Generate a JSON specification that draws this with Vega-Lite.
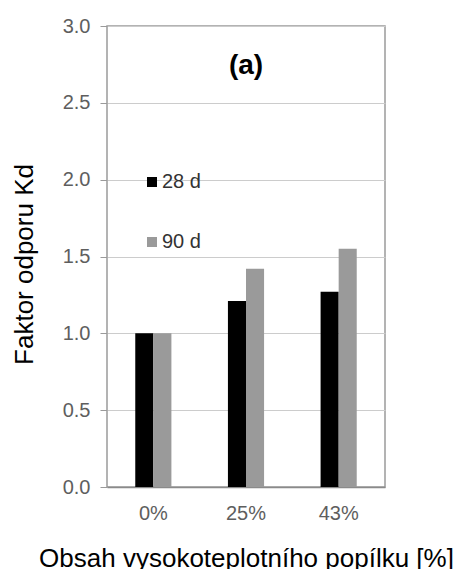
{
  "$schema": "https://vega.github.io/schema/vega-lite/v6.json",
  "autosize": "none",
  "width": 278,
  "height": 461,
  "padding": {"left": 107, "top": 26, "right": 68, "bottom": 82},
  "background": "white",
  "config": {
    "font": "Liberation Sans",
    "view": {"stroke": "#9a9a9a", "strokeWidth": 1.5},
    "axis": {"labelFont": "Liberation Sans", "titleFont": "Liberation Sans", "labelColor": "#5e5e5e", "titleColor": "#000000", "titleFontWeight": "normal"}
  },
  "datasets": {
    "bars": [
      {"obsah": "0%", "stari": "28 d", "kd": 1.0},
      {"obsah": "0%", "stari": "90 d", "kd": 1.0},
      {"obsah": "25%", "stari": "28 d", "kd": 1.21},
      {"obsah": "25%", "stari": "90 d", "kd": 1.42},
      {"obsah": "43%", "stari": "28 d", "kd": 1.27},
      {"obsah": "43%", "stari": "90 d", "kd": 1.55}
    ],
    "note": [{"obsah": "25%", "kd": 2.74, "label": "(a)"}]
  },
  "layer": [
    {
      "data": {"name": "bars"},
      "mark": {"type": "bar"},
      "encoding": {
        "x": {
          "field": "obsah", "type": "nominal", "sort": ["0%", "25%", "43%"],
          "scale": {"paddingInner": 0.61, "paddingOuter": 0.305},
          "axis": {"title": "Obsah vysokoteplotního popílku [%]", "labelAngle": 0, "ticks": false, "labelFontSize": 20, "labelPadding": 16, "titleFontSize": 26, "titlePadding": 22, "domainColor": "#8a8a8a", "domainWidth": 1.5}
        },
        "xOffset": {"field": "stari", "type": "nominal", "scale": {"paddingInner": 0, "paddingOuter": 0}},
        "y": {
          "field": "kd", "type": "quantitative",
          "scale": {"domain": [0, 3]},
          "axis": {"title": "Faktor odporu Kd", "values": [0, 0.5, 1, 1.5, 2, 2.5, 3], "format": ".1f", "grid": true, "gridColor": "#cccccc", "domain": false, "tickSize": 7, "tickColor": "#9a9a9a", "labelPadding": 10, "labelFontSize": 20, "titleFontSize": 26, "titlePadding": 25, "titleY": 238}
        },
        "color": {
          "field": "stari", "type": "nominal",
          "scale": {"range": ["#000000", "#9a9a9a"]},
          "legend": {"title": null, "orient": "none", "legendX": 35, "legendY": 146, "padding": 0, "symbolType": "square", "symbolSize": 100, "symbolStrokeWidth": 0, "labelFontSize": 20, "labelColor": "#333333", "labelFont": "Liberation Sans", "labelOffset": 0, "rowPadding": 40}
        }
      }
    },
    {
      "data": {"name": "note"},
      "mark": {"type": "text", "fontSize": 28, "fontWeight": "bold", "font": "Liberation Sans", "baseline": "middle", "align": "center", "color": "#000000"},
      "encoding": {
        "x": {"field": "obsah", "type": "nominal"},
        "y": {"field": "kd", "type": "quantitative"},
        "text": {"field": "label"}
      }
    }
  ]
}
